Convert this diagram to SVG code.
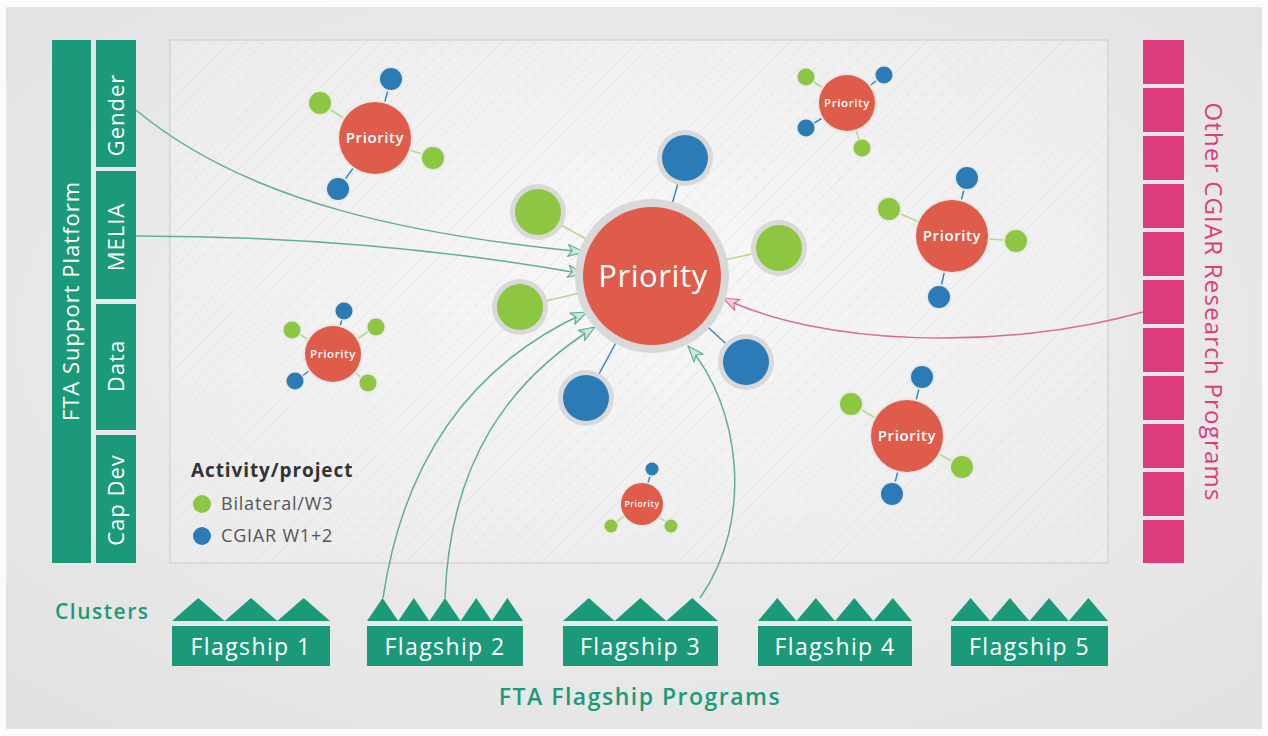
<svg xmlns="http://www.w3.org/2000/svg" width="1268" height="736" viewBox="0 0 1268 736">
  <defs>
    <radialGradient id="pageBg" cx="50%" cy="45%" r="70%">
      <stop offset="0" stop-color="#f3f3f3"/>
      <stop offset="1" stop-color="#e2e2e2"/>
    </radialGradient>
    <radialGradient id="panelBg" cx="50%" cy="45%" r="65%">
      <stop offset="0" stop-color="#f8f8f8"/>
      <stop offset="1" stop-color="#ececec"/>
    </radialGradient>
    <pattern id="hatch" width="12" height="12" patternUnits="userSpaceOnUse" patternTransform="rotate(45)">
      <line x1="0" y1="0" x2="0" y2="12" stroke="#d6d6d6" stroke-width="0.9" stroke-dasharray="3 1.5"/>
    </pattern>
    <marker id="arrowTeal" markerUnits="userSpaceOnUse" viewBox="0 0 18 14" markerWidth="18" markerHeight="14" refX="17" refY="7" orient="auto">
      <path d="M1,1 L17,7 L1,13 L5,7 Z" fill="#cfe9df" stroke="#62ae94" stroke-width="1.2" stroke-linejoin="round"/>
    </marker>
    <marker id="arrowPink" markerUnits="userSpaceOnUse" viewBox="0 0 18 14" markerWidth="18" markerHeight="14" refX="17" refY="7" orient="auto">
      <path d="M1,1 L17,7 L1,13 L5,7 Z" fill="#f6d3e1" stroke="#e0679a" stroke-width="1.2" stroke-linejoin="round"/>
    </marker>
  </defs>
  <style>
    .teal { fill: #1b9a7a; }
    .pink { fill: #de3b7d; }
    .red { fill: #e05c4a; }
    .green { fill: #8dc641; }
    .blue { fill: #2b7cb6; }
    .halo { fill: #d9d9d9; }
    .halo-s { fill: #e9e9e9; }
    .lnk-g { stroke: #b3d98a; stroke-width: 1.5; }
    .lnk-b { stroke: #3f85bd; stroke-width: 1.5; }
    .lbl { font-family: "Open Sans", "Liberation Sans", sans-serif; fill: #ffffff; text-anchor: middle; letter-spacing: 0.6px; }
    .bar-lbl { font-family: "Open Sans", "Liberation Sans", sans-serif; fill: #ffffff; font-size: 22px; letter-spacing: 1px; text-anchor: middle; }
    .flag-lbl { font-family: "Open Sans", "Liberation Sans", sans-serif; fill: #ffffff; font-size: 23px; letter-spacing: 1.4px; text-anchor: middle; }
    .conn { fill: none; stroke: #62ae94; stroke-width: 1.5; marker-end: url(#arrowTeal); }
    .conn-p { fill: none; stroke: #e0679a; stroke-width: 1.5; marker-end: url(#arrowPink); }
  </style>

  <!-- page background -->
  <rect x="0" y="0" width="1268" height="736" fill="#fbfbfb"/>
  <rect x="6" y="7" width="1256" height="722" fill="url(#pageBg)"/>

  <!-- central hatched panel -->
  <g id="panel">
    <rect x="170" y="40" width="938" height="523" fill="url(#panelBg)" stroke="#cfcfcf" stroke-width="1.2"/>
    <rect x="170" y="40" width="938" height="523" fill="url(#hatch)"/>
  </g>

  <!-- FTA support platform column -->
  <g id="support-platform">
    <rect class="teal" x="52" y="40" width="39" height="523"/>
    <text class="bar-lbl" transform="translate(79,301) rotate(-90)" font-size="24" letter-spacing="1.7">FTA Support Platform</text>
  </g>
  <g id="gender">
    <rect class="teal" x="96" y="40" width="40" height="127"/>
    <text class="bar-lbl" transform="translate(124,115) rotate(-90)">Gender</text>
  </g>
  <g id="melia">
    <rect class="teal" x="96" y="171" width="40" height="128"/>
    <text class="bar-lbl" transform="translate(124,237) rotate(-90)">MELIA</text>
  </g>
  <g id="data">
    <rect class="teal" x="96" y="304" width="40" height="126"/>
    <text class="bar-lbl" transform="translate(124,366) rotate(-90)">Data</text>
  </g>
  <g id="capdev">
    <rect class="teal" x="96" y="435" width="40" height="128"/>
    <text class="bar-lbl" transform="translate(124,500) rotate(-90)">Cap Dev</text>
  </g>

  <!-- other CGIAR research programs column -->
  <g id="other-crps">
    <rect class="pink" x="1143" y="40" width="41" height="44"/>
    <rect class="pink" x="1143" y="88" width="41" height="44"/>
    <rect class="pink" x="1143" y="136" width="41" height="44"/>
    <rect class="pink" x="1143" y="184" width="41" height="44"/>
    <rect class="pink" x="1143" y="232" width="41" height="44"/>
    <rect class="pink" x="1143" y="280" width="41" height="44"/>
    <rect class="pink" x="1143" y="328" width="41" height="44"/>
    <rect class="pink" x="1143" y="376" width="41" height="44"/>
    <rect class="pink" x="1143" y="424" width="41" height="44"/>
    <rect class="pink" x="1143" y="472" width="41" height="44"/>
    <rect class="pink" x="1143" y="520" width="41" height="43"/>
    <text transform="translate(1205,302) rotate(90)" font-family="'Open Sans', 'Liberation Sans', sans-serif" font-size="24" letter-spacing="1.2" fill="#de3b7d" text-anchor="middle">Other CGIAR Research Programs</text>
  </g>

  <!-- connectors -->
  <g id="connectors">
    <path class="conn" d="M136,110 C 250,205 420,236 584,252"/>
    <path class="conn" d="M136,236 C 300,236 450,250 584,274"/>
    <path class="conn" d="M383,598 C 405,450 480,360 587,312"/>
    <path class="conn" d="M445,598 C 450,460 510,380 595,327"/>
    <path class="conn" d="M700,598 C 755,520 740,405 688,346"/>
    <path class="conn-p" d="M1143,312 C 1000,352 820,345 723,298"/>
  </g>

  <!-- central priority with its activities -->
  <g id="priority-main">
    <line class="lnk-b" x1="685" y1="158" x2="652" y2="276"/>
    <line class="lnk-g" x1="538" y1="212" x2="652" y2="276"/>
    <line class="lnk-g" x1="779" y1="248" x2="652" y2="276"/>
    <line class="lnk-g" x1="520" y1="307" x2="652" y2="276"/>
    <line class="lnk-b" x1="586" y1="398" x2="652" y2="276"/>
    <line class="lnk-b" x1="746" y1="362" x2="652" y2="276"/>
    <circle class="halo" cx="685" cy="158" r="28"/>
    <circle class="blue" cx="685" cy="158" r="23"/>
    <circle class="halo" cx="538" cy="212" r="28"/>
    <circle class="green" cx="538" cy="212" r="23"/>
    <circle class="halo" cx="779" cy="248" r="28"/>
    <circle class="green" cx="779" cy="248" r="23"/>
    <circle class="halo" cx="520" cy="307" r="28"/>
    <circle class="green" cx="520" cy="307" r="23"/>
    <circle class="halo" cx="586" cy="398" r="28"/>
    <circle class="blue" cx="586" cy="398" r="23"/>
    <circle class="halo" cx="746" cy="362" r="28"/>
    <circle class="blue" cx="746" cy="362" r="23"/>
    <circle class="halo" cx="652" cy="276" r="77"/>
    <circle class="red" cx="652" cy="276" r="69"/>
    <text class="lbl" x="653" y="287" font-size="31" letter-spacing="1">Priority</text>
  </g>

  <!-- priority, top left -->
  <g id="priority-tl">
    <line class="lnk-b" x1="391" y1="79" x2="375" y2="138"/>
    <line class="lnk-g" x1="320" y1="103" x2="375" y2="138"/>
    <line class="lnk-g" x1="433" y1="158" x2="375" y2="138"/>
    <line class="lnk-b" x1="338" y1="189" x2="375" y2="138"/>
    <circle class="halo-s" cx="391" cy="79" r="13"/>
    <circle class="blue" cx="391" cy="79" r="11"/>
    <circle class="halo-s" cx="320" cy="103" r="13"/>
    <circle class="green" cx="320" cy="103" r="11"/>
    <circle class="halo-s" cx="433" cy="158" r="13"/>
    <circle class="green" cx="433" cy="158" r="11"/>
    <circle class="halo-s" cx="338" cy="189" r="13"/>
    <circle class="blue" cx="338" cy="189" r="11"/>
    <circle class="halo-s" cx="375" cy="138" r="38"/>
    <circle class="red" cx="375" cy="138" r="36"/>
    <text class="lbl" x="375" y="143" font-size="15" font-weight="600">Priority</text>
  </g>

  <!-- priority, top right -->
  <g id="priority-tr">
    <line class="lnk-b" x1="884" y1="75" x2="847" y2="103"/>
    <line class="lnk-g" x1="806" y1="77" x2="847" y2="103"/>
    <line class="lnk-b" x1="806" y1="128" x2="847" y2="103"/>
    <line class="lnk-g" x1="862" y1="148" x2="847" y2="103"/>
    <circle class="halo-s" cx="884" cy="75" r="10"/>
    <circle class="blue" cx="884" cy="75" r="8.5"/>
    <circle class="halo-s" cx="806" cy="77" r="10"/>
    <circle class="green" cx="806" cy="77" r="8.5"/>
    <circle class="halo-s" cx="806" cy="128" r="10"/>
    <circle class="blue" cx="806" cy="128" r="8.5"/>
    <circle class="halo-s" cx="862" cy="148" r="10"/>
    <circle class="green" cx="862" cy="148" r="8.5"/>
    <circle class="halo-s" cx="847" cy="103" r="30"/>
    <circle class="red" cx="847" cy="103" r="28"/>
    <text class="lbl" x="847" y="107" font-size="11.5" font-weight="600">Priority</text>
  </g>

  <!-- priority, right middle -->
  <g id="priority-rm">
    <line class="lnk-b" x1="967" y1="178" x2="952" y2="236"/>
    <line class="lnk-g" x1="889" y1="209" x2="952" y2="236"/>
    <line class="lnk-g" x1="1016" y1="241" x2="952" y2="236"/>
    <line class="lnk-b" x1="939" y1="297" x2="952" y2="236"/>
    <circle class="halo-s" cx="967" cy="178" r="13"/>
    <circle class="blue" cx="967" cy="178" r="11"/>
    <circle class="halo-s" cx="889" cy="209" r="13"/>
    <circle class="green" cx="889" cy="209" r="11"/>
    <circle class="halo-s" cx="1016" cy="241" r="13"/>
    <circle class="green" cx="1016" cy="241" r="11"/>
    <circle class="halo-s" cx="939" cy="297" r="13"/>
    <circle class="blue" cx="939" cy="297" r="11"/>
    <circle class="halo-s" cx="952" cy="236" r="38"/>
    <circle class="red" cx="952" cy="236" r="36"/>
    <text class="lbl" x="952" y="241" font-size="15" font-weight="600">Priority</text>
  </g>

  <!-- priority, left middle -->
  <g id="priority-lm">
    <line class="lnk-b" x1="344" y1="311" x2="333" y2="354"/>
    <line class="lnk-g" x1="292" y1="330" x2="333" y2="354"/>
    <line class="lnk-g" x1="376" y1="327" x2="333" y2="354"/>
    <line class="lnk-b" x1="295" y1="381" x2="333" y2="354"/>
    <line class="lnk-g" x1="368" y1="383" x2="333" y2="354"/>
    <circle class="halo-s" cx="344" cy="311" r="10"/>
    <circle class="blue" cx="344" cy="311" r="8.5"/>
    <circle class="halo-s" cx="292" cy="330" r="10"/>
    <circle class="green" cx="292" cy="330" r="8.5"/>
    <circle class="halo-s" cx="376" cy="327" r="10"/>
    <circle class="green" cx="376" cy="327" r="8.5"/>
    <circle class="halo-s" cx="295" cy="381" r="10"/>
    <circle class="blue" cx="295" cy="381" r="8.5"/>
    <circle class="halo-s" cx="368" cy="383" r="10"/>
    <circle class="green" cx="368" cy="383" r="8.5"/>
    <circle class="halo-s" cx="333" cy="354" r="30"/>
    <circle class="red" cx="333" cy="354" r="28"/>
    <text class="lbl" x="333" y="358" font-size="11.5" font-weight="600">Priority</text>
  </g>

  <!-- priority, bottom right -->
  <g id="priority-br">
    <line class="lnk-b" x1="922" y1="377" x2="907" y2="436"/>
    <line class="lnk-g" x1="851" y1="404" x2="907" y2="436"/>
    <line class="lnk-g" x1="962" y1="467" x2="907" y2="436"/>
    <line class="lnk-b" x1="892" y1="494" x2="907" y2="436"/>
    <circle class="halo-s" cx="922" cy="377" r="13"/>
    <circle class="blue" cx="922" cy="377" r="11"/>
    <circle class="halo-s" cx="851" cy="404" r="13"/>
    <circle class="green" cx="851" cy="404" r="11"/>
    <circle class="halo-s" cx="962" cy="467" r="13"/>
    <circle class="green" cx="962" cy="467" r="11"/>
    <circle class="halo-s" cx="892" cy="494" r="13"/>
    <circle class="blue" cx="892" cy="494" r="11"/>
    <circle class="halo-s" cx="907" cy="436" r="38"/>
    <circle class="red" cx="907" cy="436" r="36"/>
    <text class="lbl" x="907" y="441" font-size="15" font-weight="600">Priority</text>
  </g>

  <!-- priority, bottom centre -->
  <g id="priority-bc">
    <line class="lnk-b" x1="652" y1="469" x2="642" y2="504"/>
    <line class="lnk-g" x1="611" y1="526" x2="642" y2="504"/>
    <line class="lnk-g" x1="671" y1="526" x2="642" y2="504"/>
    <circle class="halo-s" cx="652" cy="469" r="8"/>
    <circle class="blue" cx="652" cy="469" r="6.5"/>
    <circle class="halo-s" cx="611" cy="526" r="8"/>
    <circle class="green" cx="611" cy="526" r="6.5"/>
    <circle class="halo-s" cx="671" cy="526" r="8"/>
    <circle class="green" cx="671" cy="526" r="6.5"/>
    <circle class="halo-s" cx="642" cy="504" r="22.5"/>
    <circle class="red" cx="642" cy="504" r="21"/>
    <text class="lbl" x="642" y="507" font-size="8.5" font-weight="600" letter-spacing="0.3">Priority</text>
  </g>

  <!-- legend -->
  <g id="legend" font-family="'Open Sans', 'Liberation Sans', sans-serif">
    <text x="191" y="477" font-size="19" font-weight="bold" letter-spacing="0.9" fill="#333333">Activity/project</text>
    <circle class="green" cx="202" cy="504" r="9"/>
    <text x="221" y="510" font-size="18" letter-spacing="0.8" fill="#555555">Bilateral/W3</text>
    <circle class="blue" cx="202" cy="536" r="9"/>
    <text x="221" y="542" font-size="18" letter-spacing="0.8" fill="#555555">CGIAR W1+2</text>
  </g>

  <!-- flagship programs and their clusters -->
  <text x="55" y="619" font-family="'Open Sans', 'Liberation Sans', sans-serif" font-size="21" font-weight="600" letter-spacing="1.5" fill="#1b9a7a">Clusters</text>

  <g id="flagship-1">
    <path class="teal" d="M172,621 L198.3,598 L224.7,621 Z M224.7,621 L251,598 L277.3,621 Z M277.3,621 L303.7,598 L330,621 Z"/>
    <rect class="teal" x="172" y="626" width="158" height="40"/>
    <text class="flag-lbl" x="251" y="655">Flagship 1</text>
  </g>
  <g id="flagship-2">
    <path class="teal" d="M367,621 L382.6,598 L398.2,621 Z M398.2,621 L413.8,598 L429.4,621 Z M429.4,621 L445,598 L460.6,621 Z M460.6,621 L476.2,598 L491.8,621 Z M491.8,621 L507.4,598 L523,621 Z"/>
    <rect class="teal" x="367" y="626" width="156" height="40"/>
    <text class="flag-lbl" x="445" y="655">Flagship 2</text>
  </g>
  <g id="flagship-3">
    <path class="teal" d="M563,621 L588.8,598 L614.7,621 Z M614.7,621 L640.5,598 L666.3,621 Z M666.3,621 L692.2,598 L718,621 Z"/>
    <rect class="teal" x="563" y="626" width="155" height="40"/>
    <text class="flag-lbl" x="640.5" y="655">Flagship 3</text>
  </g>
  <g id="flagship-4">
    <path class="teal" d="M758,621 L777.3,598 L796.5,621 Z M796.5,621 L815.8,598 L835,621 Z M835,621 L854.3,598 L873.5,621 Z M873.5,621 L892.8,598 L912,621 Z"/>
    <rect class="teal" x="758" y="626" width="154" height="40"/>
    <text class="flag-lbl" x="835" y="655">Flagship 4</text>
  </g>
  <g id="flagship-5">
    <path class="teal" d="M951,621 L970.6,598 L990.3,621 Z M990.3,621 L1009.9,598 L1029.5,621 Z M1029.5,621 L1049.1,598 L1068.8,621 Z M1068.8,621 L1088.4,598 L1108,621 Z"/>
    <rect class="teal" x="951" y="626" width="157" height="40"/>
    <text class="flag-lbl" x="1029.5" y="655">Flagship 5</text>
  </g>

  <text x="640" y="705" font-family="'Open Sans', 'Liberation Sans', sans-serif" font-size="23" font-weight="600" letter-spacing="1.5" fill="#1b9a7a" text-anchor="middle">FTA Flagship Programs</text>
</svg>
